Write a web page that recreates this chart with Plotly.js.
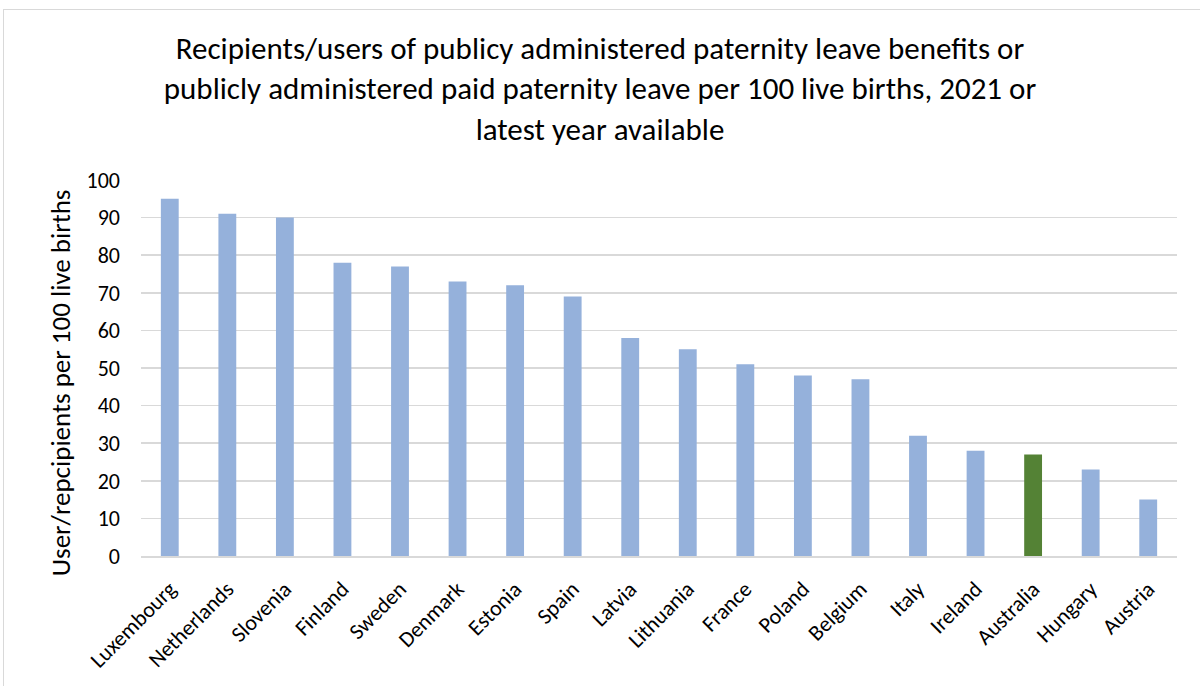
<!DOCTYPE html>
<html><head><meta charset="utf-8">
<script src="https://cdn.plot.ly/plotly-3.0.1.min.js"></script>
<style>
html,body{margin:0;padding:0;overflow:hidden;background:#fff;}
#frame{position:absolute;left:3px;top:9px;width:1300px;height:800px;border:1px solid #d9d9d9;}
#chart{position:absolute;left:0;top:0;width:1200px;height:686px;}
</style></head>
<body>
<div id="frame"></div>
<div id="chart"></div>
<script>
const countries = ["Luxembourg","Netherlands","Slovenia","Finland","Sweden","Denmark","Estonia","Spain","Latvia","Lithuania","France","Poland","Belgium","Italy","Ireland","Australia","Hungary","Austria"];
const values = [95,91,90,78,77,73,72,69,58,55,51,48,47,32,28,27,23,15];
const highlight = "Australia";
const baseColor = "#95b1db";
const highlightColor = "#548235";
const yTitle = "User/repcipients per 100 live births";

const colors = countries.map(c => c === highlight ? highlightColor : baseColor);
const font = "Calibri, Carlito, 'Open Sans', 'Liberation Sans', sans-serif";

Plotly.newPlot("chart", [{
  type: "bar",
  x: countries,
  y: values,
  marker: {color: colors},
  width: 0.31,
  hoverinfo: "x+y"
}], {
  width: 1200, height: 686,
  paper_bgcolor: "rgba(0,0,0,0)",
  plot_bgcolor: "rgba(0,0,0,0)",
  margin: {l: 141, r: 23, t: 180, b: 130},
  title: {
    text: "Recipients/users of publicy administered paternity leave benefits or<br>publicly administered paid paternity leave per 100 live births, 2021 or<br>latest year available",
    font: {family: font, size: 31, color: "#000"},
    x: 0.5, xanchor: "center", y: 0.914, yanchor: "top"
  },
  xaxis: {
    tickangle: -45,
    tickfont: {family: font, size: 22, color: "#000"},
    showline: true, linecolor: "#d9d9d9", linewidth: 1.5,
    ticks: "", ticklabelstandoff: 10
  },
  yaxis: {
    range: [0, 100], dtick: 10,
    tickfont: {family: font, size: 22, color: "#000"},
    gridcolor: "#d9d9d9", gridwidth: 1.5,
    zeroline: false,
    ticks: "", ticklabelstandoff: 20
  },
  annotations: [{
    text: yTitle, textangle: -90,
    xref: "paper", yref: "paper",
    x: -0.078, y: 0.46, xanchor: "center", yanchor: "middle",
    showarrow: false,
    font: {family: font, size: 27, color: "#000"}
  }],
  showlegend: false
}, {displayModeBar: false, staticPlot: true});
</script>
</body></html>
